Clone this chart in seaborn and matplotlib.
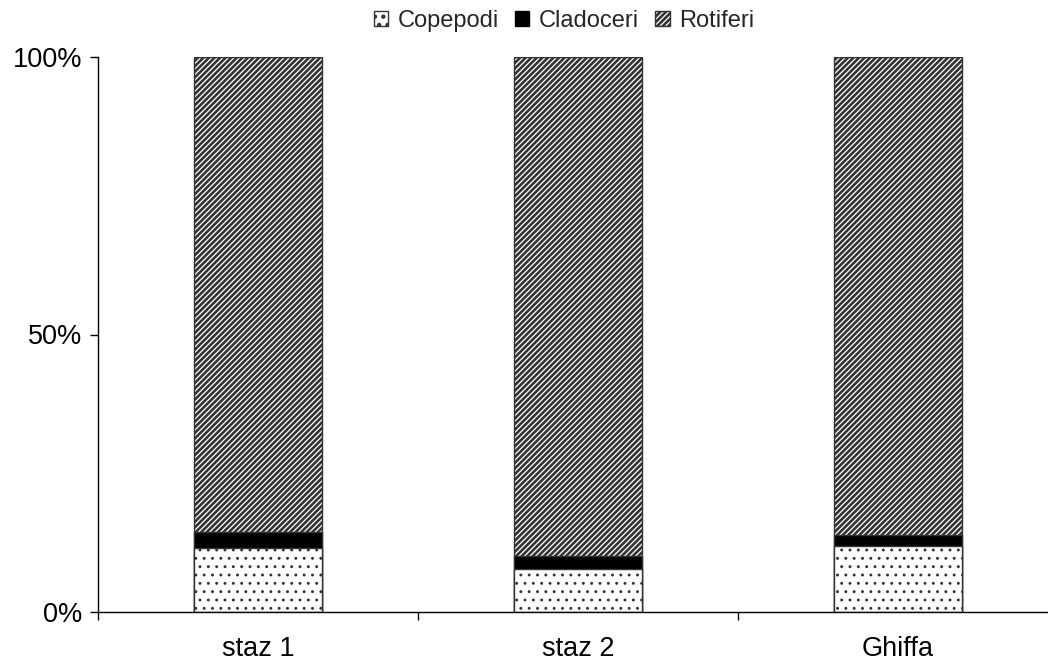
import matplotlib
matplotlib.use("Agg")
import matplotlib.pyplot as plt
import seaborn as sns
import pandas as pd
from matplotlib.patches import Patch
from matplotlib.ticker import FixedLocator

stations = ["staz 1", "staz 2", "Ghiffa"]
copepodi = [11.5, 7.7, 11.9]
cladoceri = [2.9, 2.4, 2.0]
rotiferi = [85.6, 89.9, 86.1]
yticks = [0, 50, 100]
yticklabels = ["0%", "50%", "100%"]

sns.set_theme(style="white")
plt.rcParams["font.family"] = ["Liberation Sans", "DejaVu Sans"]
plt.rcParams["hatch.linewidth"] = 1.9
plt.rcParams["hatch.color"] = "black"

df = pd.DataFrame({"station": stations, "cop": copepodi, "cla": cladoceri, "rot": rotiferi})
df["cum_cop"] = df["cop"]
df["cum_cla"] = df["cop"] + df["cla"]
df["cum_rot"] = df["cop"] + df["cla"] + df["rot"]

fig = plt.figure(figsize=(10.48, 6.64), dpi=100)
ax = fig.add_axes([98 / 1048, 52 / 664, 960 / 1048, 555 / 664])


def set_hlw(p, w):
    if hasattr(p, "set_hatch_linewidth"):
        try:
            p.set_hatch_linewidth(w)
        except Exception:
            pass


layers = [
    ("cum_rot", "white", "//////", 1.9),
    ("cum_cla", "black", None, None),
    ("cum_cop", "white", "..", 0.9),
]
for col, fc, hatch, hlw in layers:
    sns.barplot(data=df, x="station", y=col, ax=ax, color=fc, width=0.403,
                edgecolor="#333333", linewidth=1.0, saturation=1, errorbar=None)
    for p in ax.patches[-len(stations):]:
        p.set_facecolor(fc)
        if hatch:
            p.set_hatch(hatch)
            set_hlw(p, hlw)

ax.set_xlim(-0.5, 2.5)
ax.set_ylim(0, 100)
ax.set_xlabel("")
ax.set_ylabel("")
ax.set_yticks(yticks)
ax.set_yticklabels(yticklabels, fontsize=19.5)
ax.tick_params(axis="x", which="major", length=0, labelsize=19.5, pad=17)
ax.xaxis.set_minor_locator(FixedLocator([-0.5, 0.5, 1.5, 2.5]))
ax.tick_params(axis="x", which="minor", bottom=True, length=5.5, width=1,
               direction="out", color="black")
ax.tick_params(axis="y", left=True, length=5.5, width=1, direction="out",
               color="black", pad=6)
ax.tick_params(labelcolor="black")
for s in ["top", "right"]:
    ax.spines[s].set_visible(False)
for s in ["left", "bottom"]:
    ax.spines[s].set_color("black")
    ax.spines[s].set_linewidth(1.0)

handles = [
    Patch(facecolor="white", edgecolor="#333333", hatch="..", label="Copepodi"),
    Patch(facecolor="black", edgecolor="black", label="Cladoceri"),
    Patch(facecolor="white", edgecolor="#333333", hatch="//////", label="Rotiferi"),
]
set_hlw(handles[0], 0.9)
fig.legend(handles=handles, loc="center", bbox_to_anchor=(564 / 1048, 1 - 21 / 664),
           ncol=3, frameon=False, fontsize=17, handlelength=0.6, handleheight=0.6,
           handletextpad=0.4, columnspacing=0.7, borderaxespad=0)

fig.savefig("out.png", dpi=100)
